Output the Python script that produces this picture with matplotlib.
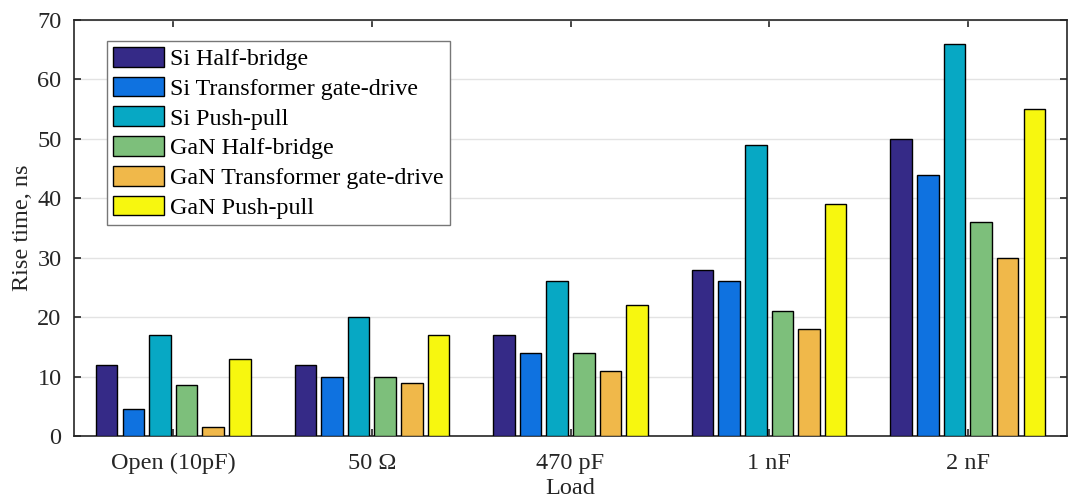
import numpy as np
import matplotlib
matplotlib.use("Agg")
import matplotlib.pyplot as plt

plt.rcParams['font.family'] = ['Liberation Serif', 'DejaVu Serif']

loads = ["Open (10pF)", "50 Ω", "470 pF", "1 nF", "2 nF"]
series = ["Si Half-bridge", "Si Transformer gate-drive", "Si Push-pull",
          "GaN Half-bridge", "GaN Transformer gate-drive", "GaN Push-pull"]
si_hb = [12, 12, 17, 28, 50]
si_tr = [4.5, 10, 14, 26, 44]
si_pp = [17, 20, 26, 49, 66]
gan_hb = [8.5, 10, 14, 21, 36]
gan_tr = [1.5, 9, 11, 18, 30]
gan_pp = [13, 17, 22, 39, 55]
values = [si_hb, si_tr, si_pp, gan_hb, gan_tr, gan_pp]
colors = ["#352a87", "#0f72e0", "#07a8c4", "#7dbf7b", "#f0b84a", "#f7f70f"]

fig = plt.figure(figsize=(10.68, 5.01), dpi=100)
ax = fig.add_axes([74/1068, 1-436/501, (1067-74)/1068, (436-20)/501])

x = np.arange(1, len(loads) + 1)
pitch = 0.134
width = 0.108
for i, (name, vals, c) in enumerate(zip(series, values, colors)):
    ax.bar(x + (i - 2.5) * pitch, vals, width, color=c, edgecolor="black",
           linewidth=1.0, label=name, zorder=3)

ax.set_xlim(0.5, 5.5)
ax.set_ylim(0, 70)
ax.set_yticks(np.arange(0, 71, 10))
ax.set_xticks(x)
ax.set_xticklabels(loads)
ax.yaxis.grid(True, color="#e3e3e3", linewidth=1.0, zorder=0)
ax.tick_params(direction="in", length=5, width=1.2, labelsize=17.5, colors="#262626",
               right=True, top=True)
ax.tick_params(axis="x", pad=12)
ax.tick_params(axis="y", pad=9)
for s in ax.spines.values():
    s.set_color("#262626")
    s.set_linewidth(1.2)
ax.set_xlabel("Load", fontsize=17.5, color="#262626", labelpad=3)
ax.set_ylabel("Rise time, ns", fontsize=17.5, color="#262626", labelpad=3)

leg = ax.legend(loc="upper left", bbox_to_anchor=(0.033, 0.95), fontsize=17.3,
                handlelength=2.15, handleheight=0.9, labelspacing=0.27,
                handletextpad=0.25, borderpad=0.25, borderaxespad=0,
                fancybox=False, framealpha=1, edgecolor="#777777")
leg.get_frame().set_linewidth(1.0)

fig.savefig("out.png", dpi=100)
